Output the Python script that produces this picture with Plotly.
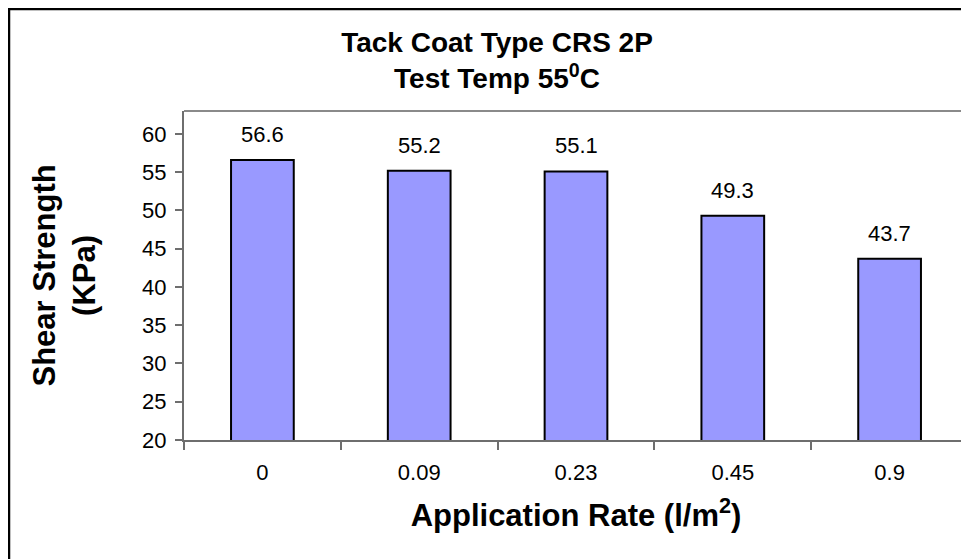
import plotly.graph_objects as go

categories = ["0", "0.09", "0.23", "0.45", "0.9"]
shear_strength = [56.6, 55.2, 55.1, 49.3, 43.7]
y_ticks = [20, 25, 30, 35, 40, 45, 50, 55, 60]

FONT = "Liberation Sans, Arial, sans-serif"
OFF = 8  # page body offset of the figure div
W, H = 969, 559
ML, MR, MT, MB = 184 - OFF, 9, 111 - OFF, H - (440 - OFF)
pw = W - ML - MR
ph = H - MT - MB

def px_x(x):
    # screen px -> paper coord
    return (x - OFF - ML) / pw

def px_y(y):
    return (H - MB - (y - OFF)) / ph

fig = go.Figure()
fig.add_trace(go.Bar(
    x=categories, y=shear_strength,
    marker=dict(color="#9999FF", line=dict(color="#000000", width=2)),
    width=0.4,
    showlegend=False,
    hoverinfo="x+y",
))

for i, v in enumerate(shear_strength):
    fig.add_annotation(x=i, y=v, text=f"{v:.1f}", showarrow=False,
                       xref="x", yref="y", yanchor="bottom", yshift=11,
                       font=dict(family=FONT, size=22, color="#000000"))

# y axis title (two lines)
fig.add_annotation(text="<b>Shear Strength<br>(KPa)</b>", textangle=-90,
                   xref="paper", yref="paper", x=px_x(64), y=0.5,
                   xanchor="center", yanchor="middle", showarrow=False,
                   font=dict(family=FONT, size=31, color="#000000"))

shapes = [
    # outer chart border (left & top, cropped on right/bottom)
    dict(type="line", xref="paper", yref="paper", x0=px_x(9), x1=px_x(9),
         y0=px_y(8), y1=px_y(H + 20), line=dict(color="#000000", width=2.5)),
    dict(type="line", xref="paper", yref="paper", x0=px_x(8), x1=px_x(W + 20),
         y0=px_y(9), y1=px_y(9), line=dict(color="#000000", width=2.5)),
    # plot area border top & right
    dict(type="line", xref="paper", yref="paper", x0=0, x1=1, y0=1, y1=1,
         line=dict(color="#8a8a8a", width=2)),
    dict(type="line", xref="paper", yref="paper", x0=1, x1=1, y0=0, y1=1,
         line=dict(color="#c0c0c0", width=1.5)),
]

fig.update_layout(
    width=W, height=H,
    margin=dict(l=ML, r=MR, t=MT, b=MB, autoexpand=False),
    paper_bgcolor="#ffffff", plot_bgcolor="#ffffff",
    font=dict(family=FONT, color="#000000"),
    title=dict(text="<b>Tack Coat Type CRS 2P<br>Test Temp 55<sup>0</sup>C</b>",
               x=(497 - OFF) / W, xanchor="center", xref="container",
               y=1 - 44 / H, yanchor="top", yref="container",
               font=dict(family=FONT, size=28, color="#000000")),
    bargap=0.6,
    shapes=shapes,
    xaxis=dict(
        type="category",
        tickvals=categories, ticktext=categories,
        showline=True, linecolor="#6e6e6e", linewidth=2,
        ticks="outside", ticklen=8, tickcolor="#6e6e6e", tickwidth=1.5,
        tickson="boundaries",
        tickfont=dict(family=FONT, size=22, color="#000000"),
        ticklabelstandoff=12,
        showgrid=False, zeroline=False,
        title=dict(text="<b>Application Rate (l/m<sup>2</sup>)</b>",
                   font=dict(family=FONT, size=31, color="#000000"),
                   standoff=20),
        automargin=False,
    ),
    yaxis=dict(
        range=[20, 63],
        tickvals=y_ticks,
        ticktext=[str(t) for t in y_ticks],
        showline=True, linecolor="#6e6e6e", linewidth=2,
        ticks="outside", ticklen=7, tickcolor="#6e6e6e", tickwidth=1.5,
        tickfont=dict(family=FONT, size=22, color="#000000"),
        showgrid=False, zeroline=False,
        ticklabelstandoff=4,
        automargin=False,
    ),
)

fig.write_html("out.html")
